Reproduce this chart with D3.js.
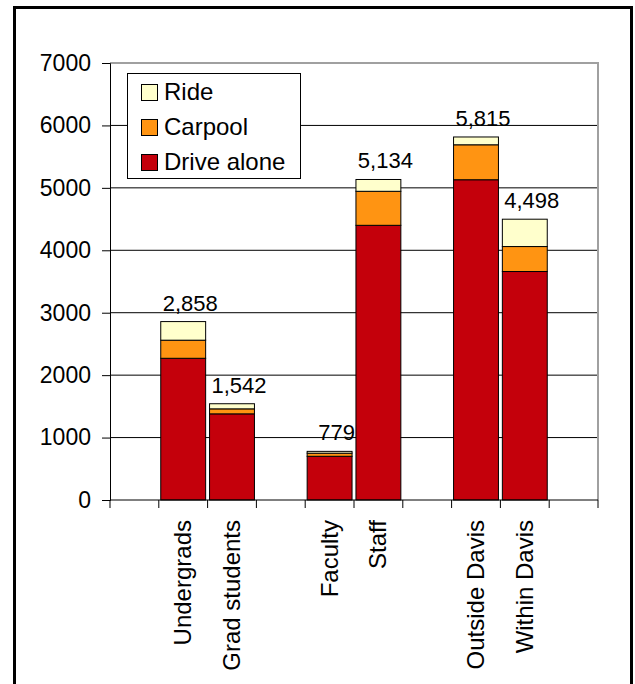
<!DOCTYPE html>
<html>
<head>
<meta charset="utf-8">
<script src="https://cdn.jsdelivr.net/npm/d3@7"></script>
<style>
  body { margin: 0; background: #fff; }
  text { font-family: Arial, "Liberation Sans", sans-serif; fill: #000; }
</style>
</head>
<body>
<svg width="635" height="684"></svg>
<script>
// Categories (blank slots are the gaps between groups)
var categories = ["", "Undergrads", "Grad students", " ", "Faculty", "Staff", "  ", "Outside Davis", "Within Davis", "   "];
var groups = ["Undergrads", "Grad students", "Faculty", "Staff", "Outside Davis", "Within Davis"];

// Series values
var driveAlone = [2270, 1380, 700, 4400, 5130, 3660];
var carpool = [290, 80, 50, 545, 560, 400];
var ride = [298, 82, 29, 189, 125, 438];
var totals = [2858, 1542, 779, 5134, 5815, 4498];

var seriesNames = ["Drive alone", "Carpool", "Ride"];
var colors = ["#C4000B", "#FF9412", "#FFFFCC"];
var yTicks = [0, 1000, 2000, 3000, 4000, 5000, 6000, 7000];

var svg = d3.select("svg"),
    width = +svg.attr("width"),
    height = +svg.attr("height");

// outer frame
svg.append("rect")
    .attr("x", 14.5).attr("y", 7.5)
    .attr("width", 617).attr("height", 700)
    .attr("fill", "none").attr("stroke", "#000").attr("stroke-width", 3);

var plotLeft = 110, plotRight = 598, plotTop = 63, plotBottom = 500;

var x = d3.scaleBand()
    .domain(categories)
    .range([plotLeft, plotRight])
    .paddingInner(0.08)
    .paddingOuter(0.04);

var y = d3.scaleLinear()
    .domain([0, 7000])
    .range([plotBottom, plotTop]);

// gridlines
svg.append("g")
    .selectAll("line")
    .data(yTicks.slice(1))
    .enter().append("line")
    .attr("x1", plotLeft).attr("x2", plotRight)
    .attr("y1", d => y(d)).attr("y2", d => y(d))
    .style("stroke", "#000")
    .style("stroke-width", 1);

// plot area top/right border
svg.append("path")
    .attr("d", "M" + plotLeft + "," + plotTop + "H" + plotRight + "V" + plotBottom)
    .style("fill", "none")
    .style("stroke", "#a0a0a0")
    .style("stroke-width", 2);

// stacked data
var table = groups.map((g, i) => ({
    cat: g, "Drive alone": driveAlone[i], "Carpool": carpool[i], "Ride": ride[i], total: totals[i]
}));
var stacked = d3.stack().keys(seriesNames)(table);

svg.append("g")
    .selectAll("g")
    .data(stacked)
    .enter().append("g")
    .attr("fill", (d, i) => colors[i])
    .selectAll("rect")
    .data(d => d)
    .enter().append("rect")
    .attr("x", d => x(d.data.cat))
    .attr("width", x.bandwidth())
    .attr("y", d => y(d[1]))
    .attr("height", d => y(d[0]) - y(d[1]))
    .style("stroke", "#000")
    .style("stroke-width", 1);

// total labels
svg.append("g")
    .selectAll("text")
    .data(table)
    .enter().append("text")
    .attr("x", d => x(d.cat) + x.bandwidth() / 2 + 7)
    .attr("y", d => y(d.total) - 11)
    .attr("text-anchor", "middle")
    .style("font-size", "22px")
    .text(d => d3.format(",")(d.total));

// y axis
var yAxis = svg.append("g")
    .attr("transform", "translate(" + plotLeft + ",0)")
    .call(d3.axisLeft(y).tickValues(yTicks).tickSize(8).tickPadding(11).tickFormat(d3.format("d")));
yAxis.select(".domain").attr("stroke", "#000");
yAxis.selectAll("text").style("font-size", "23px").style("font-family", "Arial, 'Liberation Sans', sans-serif");

// x axis: ticks at slot boundaries
svg.append("line")
    .attr("x1", plotLeft).attr("x2", plotRight)
    .attr("y1", plotBottom).attr("y2", plotBottom)
    .style("stroke", "#000");
var step = x.step();
svg.append("g")
    .selectAll("line")
    .data(d3.range(categories.length + 1))
    .enter().append("line")
    .attr("x1", d => plotLeft + d * step).attr("x2", d => plotLeft + d * step)
    .attr("y1", plotBottom).attr("y2", plotBottom + 8)
    .style("stroke", "#000");

svg.append("g")
    .selectAll("text")
    .data(groups)
    .enter().append("text")
    .attr("transform", d => "translate(" + (x(d) + x.bandwidth() / 2 + 8) + "," + (plotBottom + 20) + ") rotate(-90)")
    .attr("text-anchor", "end")
    .style("font-size", "24px")
    .text(d => d);

// legend
var legend = svg.append("g");
legend.append("rect")
    .attr("x", 127.5).attr("y", 73.5)
    .attr("width", 173).attr("height", 105)
    .attr("fill", "#fff").attr("stroke", "#000").attr("stroke-width", 1);
var legendOrder = [2, 1, 0];
legendOrder.forEach((si, j) => {
    legend.append("rect")
        .attr("x", 141.5).attr("y", 84.5 + j * 35)
        .attr("width", 16).attr("height", 16)
        .attr("fill", colors[si]).attr("stroke", "#000");
    legend.append("text")
        .attr("x", 164).attr("y", 100 + j * 35)
        .style("font-size", "24px")
        .text(seriesNames[si]);
});
</script>
</body>
</html>
